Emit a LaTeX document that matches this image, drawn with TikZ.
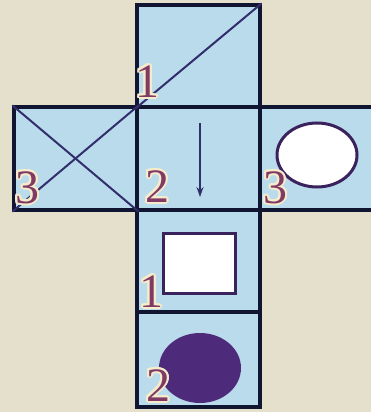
\documentclass[tikz,border=0pt]{standalone}
\usepackage{fontspec}
\setmainfont{Liberation Serif}
\usepackage{contour}
\usepackage{tikz}
\usetikzlibrary{shapes.geometric, arrows.meta}

\definecolor{paper}{RGB}{228,224,204}
\definecolor{facefill}{RGB}{186,219,236}
\definecolor{edgeline}{RGB}{16,22,50}
\definecolor{diagline}{RGB}{50,46,108}
\definecolor{markline}{RGB}{58,34,92}
\definecolor{blob}{RGB}{78,42,122}
\definecolor{digitcol}{RGB}{128,58,100}
\definecolor{glow}{RGB}{246,236,204}
\contourlength{2pt}
\contournumber{16}

\begin{document}
\begin{tikzpicture}[x=1pt, y=-1pt,
        face/.style={draw=edgeline, fill=facefill, line width=3.2pt, rectangle, minimum width=123pt, minimum height=102pt, inner sep=0pt},
        diag/.style={draw=diagline, line width=2pt},
        digit/.style={anchor=base west, inner sep=0pt, text=digitcol, font=\fontsize{48}{48}\selectfont},
        hole/.style={draw=markline, fill=white, line width=3pt, inner sep=0pt}
    ]
    \clip (0,0) rectangle (371,412);
    \fill[paper] (0,0) rectangle (371,412);

    % Net of the cube
    \node[face] (top) at (198.5,56) {};
    \node[face, minimum height=103pt] (left) at (75.5,158.5) {};
    \node[face, minimum height=103pt] (mid) at (198.5,158.5) {};
    \node[face, minimum height=103pt] (right) at (321.5,158.5) {};
    \node[face] (low) at (198.5,261) {};
    \node[face, minimum height=95pt] (base) at (198.5,359.5) {};

    % Marks on the faces
    \draw[diag] (top.south west) -- (top.north east);
    \draw[diag] (left.north west) -- (left.south east);
    \draw[diag] (left.north east) -- (left.south west);

    \coordinate (arrtop) at (200,123);
    \coordinate (arrbot) at (200,197);
    \draw[diagline, line width=1.7pt, -{Stealth[length=10pt, width=7pt]}] (arrtop) -- (arrbot);

    \node[hole, ellipse, minimum width=80pt, minimum height=64pt] (ring) at (317,155) {};
    \node[hole, rectangle, minimum width=72pt, minimum height=60pt] (box) at (199,263) {};
    \node[ellipse, fill=blob, minimum width=82pt, minimum height=70pt, inner sep=0pt] (disc) at (200,368) {};

    % Numbers
    \node[digit] (n1) at (135,97) {\contour{glow}{1}};
    \node[digit] (n2) at (15,203) {\contour{glow}{3}};
    \node[digit] (n3) at (145,202) {\contour{glow}{2}};
    \node[digit] (n4) at (263,203) {\contour{glow}{3}};
    \node[digit] (n5) at (139,307) {\contour{glow}{1}};
    \node[digit] (n6) at (146,401) {\contour{glow}{2}};

\end{tikzpicture}
\end{document}
